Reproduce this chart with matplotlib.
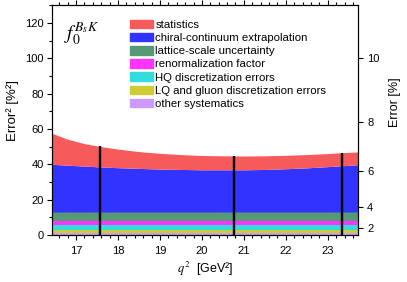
import numpy as np
import matplotlib
matplotlib.use("Agg")
import matplotlib.pyplot as plt
from matplotlib.patches import Patch
from matplotlib.ticker import MultipleLocator

plt.rcParams["font.family"] = ["Liberation Sans", "DejaVu Sans"]
plt.rcParams["mathtext.fontset"] = "stix"

# q^2 grid [GeV^2]
q2 = [16.42, 16.8, 17.2, 17.6, 18.0, 18.5, 19.0, 19.5, 20.0,
      20.5, 21.0, 21.5, 22.0, 22.5, 23.0, 23.35, 23.72]

# contributions to Error^2 [%^2], stacked bottom -> top
other_sys = [1.2] * 17
lq_gluon = [1.9] * 17
hq_disc = [2.4] * 17
renorm = [2.4] * 17
lattice_scale = [5.1] * 17
chiral = [27.0, 26.5, 26.0, 25.5, 25.1, 24.7, 24.3, 24.1, 23.9,
          23.9, 23.9, 24.1, 24.5, 25.0, 25.7, 26.2, 26.8]
stat = [17.6, 14.7, 12.7, 11.5, 10.5, 9.5, 8.9, 8.4, 8.1,
        7.9, 7.8, 7.7, 7.6, 7.5, 7.4, 7.4, 7.2]

# q^2 of the simulated data points (black lines)
q2_data = [17.57, 20.76, 23.35]

labels = ["other systematics", "LQ and gluon discretization errors",
          "HQ discretization errors", "renormalization factor",
          "lattice-scale uncertainty", "chiral-continuum extrapolation",
          "statistics"]
colors = ["#cc99ff", "#cccc33", "#33dddd", "#ff33ff",
          "#559977", "#3333ff", "#f75a5a"]
layers = [other_sys, lq_gluon, hq_disc, renorm, lattice_scale, chiral, stat]

fig = plt.figure(figsize=(4.07, 2.82), dpi=100)
ax = fig.add_axes([0.127, 0.1667, 0.7526, 0.8145])

x = np.array(q2)
base = np.zeros_like(x)
for vals, c in zip(layers, colors):
    top = base + np.array(vals)
    ax.fill_between(x, base, top, color=c, lw=0)
    base = top

ax.vlines(q2_data, 0, np.interp(q2_data, x, base), color="black", lw=1.7, zorder=3)

ax.set_xlim(16.42, 23.72)
ax.set_ylim(0, 130)
ax.xaxis.set_major_locator(MultipleLocator(1))
ax.xaxis.set_minor_locator(MultipleLocator(0.2))
ax.yaxis.set_major_locator(MultipleLocator(20))
ax.yaxis.set_minor_locator(MultipleLocator(10))
ax.tick_params(which="both", direction="out", top=True, labelsize=8, width=0.8)
ax.tick_params(which="major", length=3.5, pad=2)
ax.tick_params(which="minor", length=2)
ax.tick_params(axis="x", which="major", pad=4.5)
ax.set_xlabel(r"$q^2$  [GeV²]", fontsize=9, labelpad=2.5)
ax.set_ylabel("Error² [%²]", fontsize=9.5)
ax.yaxis.set_label_coords(-0.108, 0.54)

ax2 = ax.twinx()
ax2.set_ylim(0, 130)
ax2.set_yticks([4, 16, 36, 64, 100], ["2", "4", "6", "8", "10"])
ax2.tick_params(direction="out", length=3.5, labelsize=8, width=0.8, pad=3)
ax2.set_ylabel("Error [%]", fontsize=9)
ax2.yaxis.set_label_coords(1.102, 0.58)

ax.text(0.04, 0.935, r"$f_0^{B_sK}$", transform=ax.transAxes,
        fontsize=14, va="top", ha="left")

handles = [Patch(color=c, label=l) for c, l in zip(colors, labels)][::-1]
ax.legend(handles=handles, loc="upper left", bbox_to_anchor=(0.255, 0.936),
          frameon=False, fontsize=8.2, handlelength=2.0, handleheight=0.75,
          handletextpad=0.25, labelspacing=0.26, borderpad=0, borderaxespad=0)

fig.savefig("out.png", dpi=100)
